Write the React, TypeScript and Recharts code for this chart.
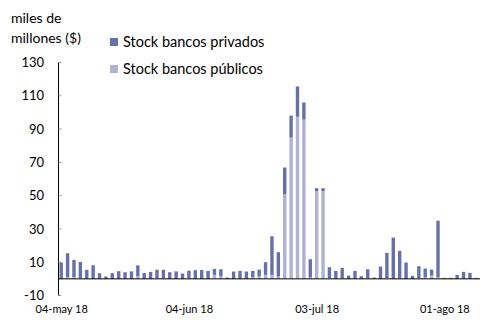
import { BarChart, Bar, XAxis, YAxis, ReferenceLine, Legend } from 'recharts'

// días hábiles con dato (04-may-18 a 09-ago-18)
const dates = [
  '04-may 18', '07-may 18', '08-may 18', '09-may 18', '10-may 18', '11-may 18',
  '15-may 18', '16-may 18', '17-may 18', '18-may 18',
  '21-may 18', '22-may 18', '23-may 18', '24-may 18', '25-may 18',
  '28-may 18', '29-may 18', '30-may 18', '31-may 18', '01-jun 18',
  '04-jun 18', '05-jun 18', '06-jun 18', '07-jun 18', '08-jun 18',
  '12-jun 18', '13-jun 18', '14-jun 18', '15-jun 18',
  '18-jun 18', '19-jun 18', '20-jun 18', '21-jun 18', '22-jun 18',
  '25-jun 18', '26-jun 18', '27-jun 18', '28-jun 18', '29-jun 18',
  '02-jul 18', '03-jul 18', '04-jul 18', '05-jul 18', '06-jul 18',
  '09-jul 18', '10-jul 18', '11-jul 18', '12-jul 18', '13-jul 18',
  '16-jul 18', '17-jul 18', '18-jul 18', '19-jul 18',
  '23-jul 18', '24-jul 18', '25-jul 18', '26-jul 18', '27-jul 18',
  '30-jul 18', '31-jul 18', '01-ago 18', '02-ago 18', '03-ago 18',
  '06-ago 18', '08-ago 18', '09-ago 18',
]

const privados = [
  9.8, 14.4, 10.4, 9.7, 5.4, 8.2, 3.4, 1.4, 3.4, 4.6,
  4.0, 4.5, 6.6, 3.5, 4.2, 5.0, 5.0, 4.0, 4.5, 3.2,
  4.4, 5.2, 5.4, 4.8, 3.6, 4.3, 0.8, 4.4, 4.8, 4.4,
  3.8, 4.1, 7.6, 23.2, 14.6, 16.2, 13.2, 18.2, 10.3, 10.8,
  1.8, 1.8, 6.5, 4.8, 6.1, 2.0, 4.8, 1.6, 5.3, 0.8,
  7.4, 15.1, 24.8, 16.3, 9.8, 1.8, 7.1, 5.2, 3.6, 33.9,
  0.6, 0.6, 2.4, 4.2, 3.6, 0.6,
]

const publicos = [
  0, 1, 1, 0.5, 0, 0, 0, 0, 0, 0,
  0, 0, 1.5, 0, 0, 0.5, 0.5, 0, 0, 0,
  0.5, 0, 0, 0, 2.4, 1.5, 0, 0, 0, 0,
  1, 1.5, 2.4, 2.4, 1.4, 50.7, 84.9, 97.4, 95.7, 1,
  52.7, 52.7, 0.5, 0, 0.5, 0, 0, 0, 0.5, 0,
  0, 0.5, 0, 0.5, 0, 0, 0.5, 1, 2, 1,
  0, 0, 0, 0, 0, 0,
]

const yTicks = [-10, 10, 30, 50, 70, 90, 110, 130]

const series = [
  { key: 'privados', label: 'Stock bancos privados', color: '#6871a5' },
  { key: 'publicos', label: 'Stock bancos públicos', color: '#b0b2d2' },
]

const rows = dates.map((d, i) => ({ date: d, privados: privados[i], publicos: publicos[i] }))

const font = 'Lato, "Open Sans", sans-serif'

function LegendBox() {
  return (
    <div style={{ fontFamily: font, fontSize: 14.5, color: '#000' }}>
      {series.map((s) => (
        <div key={s.key} style={{ display: 'flex', alignItems: 'center', height: 27 }}>
          <span style={{ width: 8, height: 8, background: s.color, marginRight: 5, display: 'inline-block' }} />
          <span>{s.label}</span>
        </div>
      ))}
    </div>
  )
}

function App() {
  return (
    <div style={{ position: 'absolute', left: 0, top: 0, width: 482, height: 320, background: '#fff' }}>
      <div style={{ position: 'absolute', left: 11, top: 8, fontFamily: font, fontSize: 14, lineHeight: '20px' }}>
        miles de
        <br />
        millones ($)
      </div>
      <BarChart
        width={482}
        height={320}
        data={rows}
        margin={{ top: 62.5, right: 2, bottom: 4.5, left: 0.5 }}
        barSize={3.4}
      >
        <XAxis
          dataKey="date"
          interval={19}
          axisLine={false}
          tickLine={false}
          height={20}
          tickMargin={3.5}
          tick={{ fill: '#000', fontSize: 11, fontFamily: font }}
        />
        <YAxis
          type="number"
          domain={[-10, 130]}
          ticks={yTicks}
          interval={0}
          width={58}
          axisLine={{ stroke: '#000' }}
          tickLine={{ stroke: '#999' }}
          tickSize={-3}
          tickMargin={17.5}
          tick={{ fill: '#000', fontSize: 13, fontFamily: font }}
        />
        <Legend
          layout="vertical"
          align="center"
          verticalAlign="middle"
          wrapperStyle={{ left: 110, top: 28, width: 220 }}
          content={() => <LegendBox />}
        />
        <Bar dataKey="publicos" stackId="a" fill="#b0b2d2" isAnimationActive={false} />
        <Bar dataKey="privados" stackId="a" fill="#6871a5" isAnimationActive={false} />
        <ReferenceLine y={0} stroke="#000" strokeWidth={1} />
      </BarChart>
    </div>
  )
}

export default App
